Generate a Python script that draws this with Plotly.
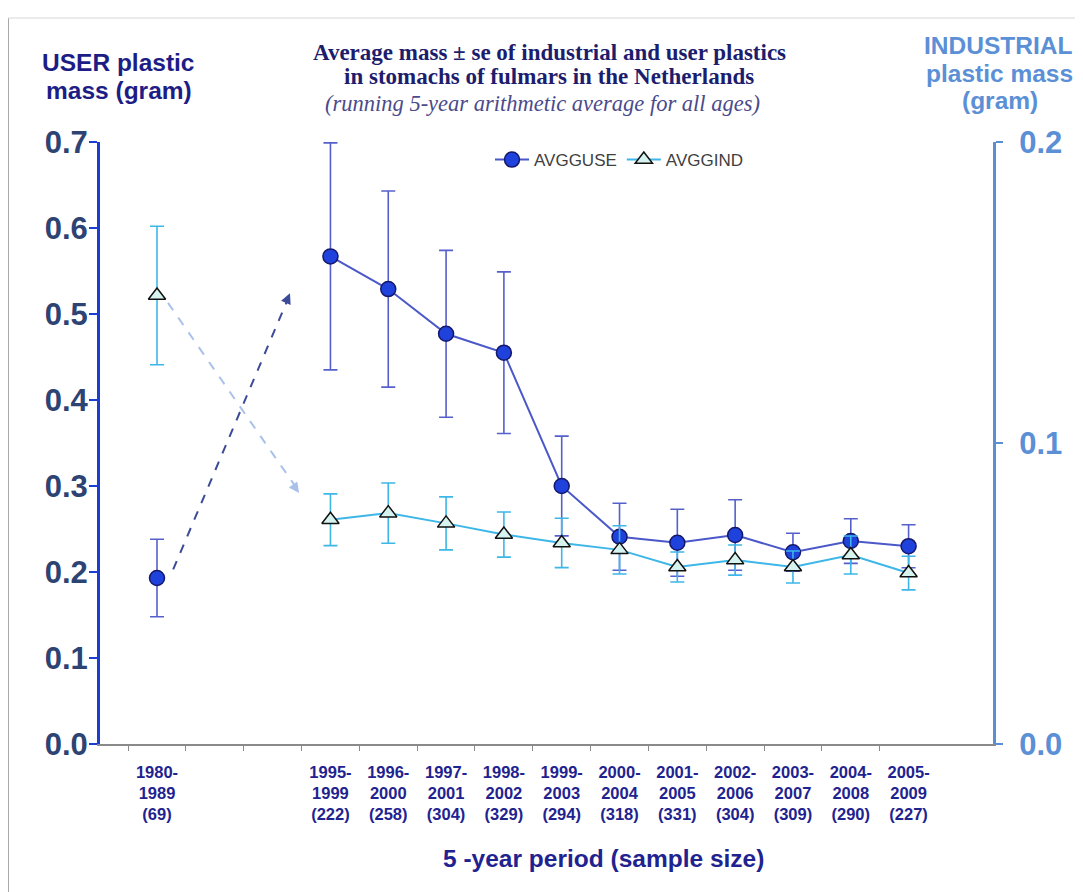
import plotly.graph_objects as go

# ---------------- data ----------------
periods = ["1980-<br>1989<br>(69)", "", "",
           "1995-<br>1999<br>(222)", "1996-<br>2000<br>(258)", "1997-<br>2001<br>(304)",
           "1998-<br>2002<br>(329)", "1999-<br>2003<br>(294)", "2000-<br>2004<br>(318)",
           "2001-<br>2005<br>(331)", "2002-<br>2006<br>(304)", "2003-<br>2007<br>(309)",
           "2004-<br>2008<br>(290)", "2005-<br>2009<br>(227)"]
user_mass = [0.193, None, None, 0.567, 0.529, 0.477, 0.455, 0.300, 0.241, 0.234, 0.243, 0.223, 0.236, 0.230]
user_se = [0.045, None, None, 0.132, 0.114, 0.097, 0.094, 0.058, 0.039, 0.039, 0.041, 0.022, 0.026, 0.025]
ind_mass = [0.149, None, None, 0.0745, 0.0767, 0.0733, 0.0696, 0.0668, 0.0645, 0.0588, 0.0611, 0.0588, 0.0628, 0.0568]
ind_se = [0.023, None, None, 0.0086, 0.0100, 0.0088, 0.0075, 0.0082, 0.0080, 0.0050, 0.0050, 0.0053, 0.0063, 0.0056]
left_ticks = [0.0, 0.1, 0.2, 0.3, 0.4, 0.5, 0.6, 0.7]
right_ticks = [0.0, 0.1, 0.2]

x_idx = list(range(len(periods)))
label_idx = [i for i, p in enumerate(periods) if p]
label_txt = [periods[i] for i in label_idx]

SANS = "Liberation Sans, Arial, sans-serif"
SERIF = "Liberation Serif, Times New Roman, serif"
NAVY = "#1f2390"
LIGHT = "#5b8fd6"

# page has an 8px body margin: plot area spans x 100..993, y 142..744 in the window
PAD = 8
W, H = 1083 - PAD, 892 - PAD
ML, MT, MR, MB = 100 - PAD, 142 - PAD, 90, 148


def py(y_px):
    return (744 - y_px) / 602


def px(x_px):
    return (x_px - 100) / 893


fig = go.Figure()

fig.add_trace(go.Scatter(
    x=x_idx, y=user_mass, name="AVGGUSE", mode="lines+markers",
    line=dict(color="#4b58c8", width=2),
    marker=dict(symbol="circle", size=15, color="#1f42dc", line=dict(color="#15186a", width=1.5)),
    error_y=dict(type="data", array=user_se, visible=True, color="#5560cc", thickness=1.6, width=7),
    connectgaps=False, yaxis="y"))

fig.add_trace(go.Scatter(
    x=x_idx, y=ind_mass, name="AVGGIND", mode="lines+markers",
    line=dict(color="#3db6e8", width=2),
    marker=dict(symbol="triangle-up", size=15, color="#d6f3ef", line=dict(color="#111111", width=1.5)),
    error_y=dict(type="data", array=ind_se, visible=True, color="#3db6e8", thickness=1.6, width=7),
    connectgaps=False, yaxis="y2"))

# dashed arrows (left-axis data coordinates)
fig.add_shape(type="line", xref="x", yref="y", x0=0.28, y0=0.203, x1=2.28, y1=0.52,
              line=dict(color="#3c4b98", width=2, dash="dash"))
fig.add_annotation(x=2.30, y=0.524, ax=2.234, ay=0.5137, xref="x", yref="y", axref="x", ayref="y",
                   text="", showarrow=True, arrowhead=2, arrowsize=1.3, arrowwidth=1.6, arrowcolor="#3c4b98")
fig.add_shape(type="line", xref="x", yref="y", x0=0.19, y0=0.513, x1=2.44, y1=0.295,
              line=dict(color="#a9c1ea", width=2, dash="dash"))
fig.add_annotation(x=2.457, y=0.292, ax=2.358, ay=0.3014, xref="x", yref="y", axref="x", ayref="y",
                   text="", showarrow=True, arrowhead=2, arrowsize=1.3, arrowwidth=1.6, arrowcolor="#a9c1ea")


# titles
def label(x_px, y_px, text, font):
    fig.add_annotation(xref="paper", yref="paper", x=px(x_px), y=py(y_px), xanchor="center",
                       yanchor="middle", showarrow=False, text=text, align="center", font=font)


label(549, 52, "<b>Average mass ± se of industrial and user plastics</b>",
      dict(family=SERIF, size=23, color="#1d1d6e"))
label(549, 77, "<b>in stomachs of fulmars in the Netherlands</b>",
      dict(family=SERIF, size=23, color="#1d1d6e"))
label(542, 103, "<i>(running 5-year arithmetic average for all ages)</i>",
      dict(family=SERIF, size=22.5, color="#4a4a8c"))

user_font = dict(family=SANS, size=24.5, color="#1d1d86", weight="bold")
label(118, 62, "USER plastic", user_font)
label(119, 90, "mass (gram)", user_font)
ind_font = dict(family=SANS, size=24.5, color=LIGHT, weight="bold")
label(998, 45, "INDUSTRIAL", ind_font)
label(999, 73, "plastic mass", ind_font)
label(1000, 101, "(gram)", ind_font)

label(603, 858, "<b>5 -year period (sample size)</b>", dict(family=SANS, size=24.5, color=NAVY))

# outer frame (left and top)
fig.add_shape(type="line", xref="paper", yref="paper", x0=px(8), x1=px(8),
              y0=py(900), y1=py(18), line=dict(color="#a8a8a8", width=2))
fig.add_shape(type="line", xref="paper", yref="paper", x0=px(8), x1=px(1090),
              y0=py(18), y1=py(18), line=dict(color="#d8d8d8", width=1))

fig.update_layout(
    width=W, height=H,
    margin=dict(l=ML, r=MR, t=MT, b=MB),
    paper_bgcolor="white", plot_bgcolor="white",
    showlegend=True,
    legend=dict(orientation="h", x=px(490), y=py(160), xanchor="left", yanchor="middle",
                font=dict(family=SANS, size=17, color="#404040"), bgcolor="rgba(0,0,0,0)",
                itemwidth=34),
    xaxis=dict(range=[-0.986, 14.46], tickmode="array", tickvals=label_idx, ticktext=label_txt,
               showgrid=False, zeroline=False, showline=True, linecolor="#8a8a8a", linewidth=1.5,
               ticks="", ticklabelstandoff=12,
               tickfont=dict(family=SANS, size=16.5, color=NAVY, weight="bold"),
               minor=dict(tickmode="array", tickvals=[i - 0.5 for i in range(14)], ticks="outside",
                          ticklen=5, tickcolor="#8a8a8a", tickwidth=1)),
    yaxis=dict(range=[0, 0.7], tickmode="array", tickvals=left_ticks,
               ticktext=[f"{v:.1f}" for v in left_ticks],
               showgrid=False, zeroline=False, showline=True, linecolor="#1a3ed0", linewidth=3,
               ticks="outside", ticklen=8, tickwidth=2, tickcolor="#1a3ed0", ticklabelstandoff=-5,
               tickfont=dict(family=SANS, size=31, color="#2d4373", weight="bold")),
    yaxis2=dict(range=[0, 0.2], overlaying="y", side="right", tickmode="array", tickvals=right_ticks,
                ticktext=[f"{v:.1f}" for v in right_ticks],
                showgrid=False, zeroline=False, showline=True, linecolor="#5a8fd3", linewidth=3,
                ticks="outside", ticklen=7, tickwidth=2, tickcolor="#5a8fd3", ticklabelstandoff=10,
                tickfont=dict(family=SANS, size=31, color=LIGHT, weight="bold")),
)

fig.write_html("out.html")
